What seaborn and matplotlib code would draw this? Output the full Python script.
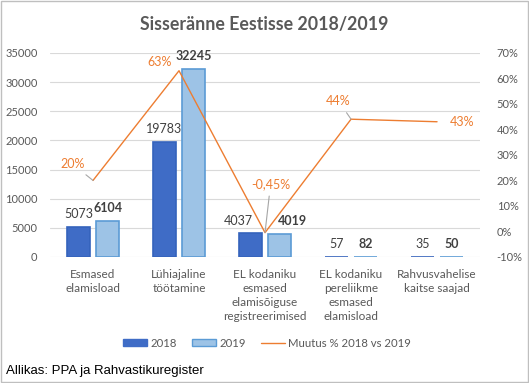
import numpy as np
import pandas as pd
import matplotlib.pyplot as plt
import seaborn as sns
from matplotlib.patches import Patch, Rectangle
from matplotlib.lines import Line2D

# --------------------------------------------------
# data
# --------------------------------------------------
categories = [
    'Esmased\nelamisload',
    'Lühiajaline\ntöötamine',
    'EL kodaniku\nesmased\nelamisõiguse\nregistreerimised',
    'EL kodaniku\npereliikme\nesmased\nelamisload',
    'Rahvusvahelise\nkaitse saajad',
]
values_2018 = [5073, 19783, 4037, 57, 35]
values_2019 = [6104, 32245, 4019, 82, 50]
change_pct = [20, 63, -0.45, 44, 43]
change_labels = ['20%', '63%', '-0,45%', '44%', '43%']

df = pd.DataFrame({
    'category': categories * 2,
    'year': ['2018'] * 5 + ['2019'] * 5,
    'value': values_2018 + values_2019,
})

sns.set_theme(style='white')
plt.rcParams['font.family'] = ['Lato', 'DejaVu Sans']

grey = '#595959'
orange = '#ED7D31'
c18 = '#3F6CC6'
c19 = '#9DC3E6'

fig = plt.figure(figsize=(5.29, 3.83), dpi=100)
ax = fig.add_axes([0.0945, 0.329, 0.813, 0.533])

sns.barplot(data=df, x='category', y='value', hue='year',
            palette={'2018': c18, '2019': c19}, width=0.68, gap=0.2,
            ax=ax, legend=False, saturation=1)
for i, p in enumerate(ax.patches[:10]):
    if i >= 5:
        p.set_edgecolor('#5B9BD5')
    else:
        p.set_edgecolor('#3563BC')
    p.set_linewidth(1.2)

ax.set_ylim(0, 35000)
ax.set_xlim(-0.5, 4.5)
ax.set_yticks(range(0, 35001, 5000))
ax.grid(axis='y', color='#D9D9D9', linewidth=0.8)
ax.set_axisbelow(True)
for s in ax.spines.values():
    s.set_visible(False)
ax.set_xlabel('')
ax.set_ylabel('')
ax.tick_params(axis='y', labelsize=8, colors=grey, length=0, pad=9)
ax.tick_params(axis='x', labelsize=8.5, colors=grey, length=0, pad=9)
for t in ax.get_xticklabels():
    t.set_linespacing(1.3)

# bar value labels
off18 = [0, 0, -9, 0, 0]
off19 = [0, 0, 9, 0, 0]
bars18 = ax.patches[:5]
bars19 = ax.patches[5:10]
for i, b in enumerate(bars18):
    ax.annotate(str(values_2018[i]), (b.get_x() + b.get_width() / 2, b.get_height()),
                xytext=(off18[i], 5), textcoords='offset points', ha='center', va='bottom',
                fontsize=9, color='#404040')
for i, b in enumerate(bars19):
    ax.annotate(str(values_2019[i]), (b.get_x() + b.get_width() / 2, b.get_height()),
                xytext=(off19[i], 5), textcoords='offset points', ha='center', va='bottom',
                fontsize=9, color='#404040', fontweight='bold')

# change line on secondary axis
ax2 = ax.twinx()
ax2.plot(range(5), change_pct, color=orange, linewidth=1)
ax2.set_ylim(-10, 70)
ax2.set_yticks(range(-10, 71, 10))
ax2.set_yticklabels([f'{v}%' for v in range(-10, 71, 10)])
ax2.tick_params(axis='y', labelsize=8, colors=grey, length=0, pad=12)
ax2.grid(False)
for s in ax2.spines.values():
    s.set_visible(False)

lab_off = [(-15, 12), (-14, 6), (4, 35), (-9, 13), (18, 0)]
leader = [True, False, True, True, False]
for i, (v, t) in enumerate(zip(change_pct, change_labels)):
    ax2.annotate(t, (i, v), xytext=lab_off[i], textcoords='offset points',
                 ha='center', va='center', fontsize=9, color=orange,
                 arrowprops=dict(arrowstyle='-', color='#A6A6A6', lw=0.8,
                                 shrinkA=2, shrinkB=0) if leader[i] else None)

fig.text(0.5, 0.935, 'Sisseränne Eestisse 2018/2019', ha='center', va='center',
         fontsize=12.8, fontweight='bold', color=grey)

handles = [Patch(facecolor=c18, edgecolor=c18),
           Patch(facecolor=c19, edgecolor='#5B9BD5'),
           Line2D([], [], color=orange, linewidth=1)]
fig.legend(handles, ['2018', '2019', 'Muutus % 2018 vs 2019'], loc='center',
           bbox_to_anchor=(0.505, 0.104), ncol=3, frameon=False, fontsize=8.2,
           labelcolor=grey, handlelength=2.1, handleheight=0.5, columnspacing=1.3,
           handletextpad=0.3)

fig.text(0.011, 0.032, 'Allikas: PPA ja Rahvastikuregister', ha='left', va='center',
         fontsize=9.5, color='black', family='Liberation Sans')

fig.patches.append(Rectangle((0.001, 0.002), 0.997, 0.995, transform=fig.transFigure,
                             fill=False, edgecolor='#BFBFBF', linewidth=1))

plt.savefig('out.png', dpi=100)
